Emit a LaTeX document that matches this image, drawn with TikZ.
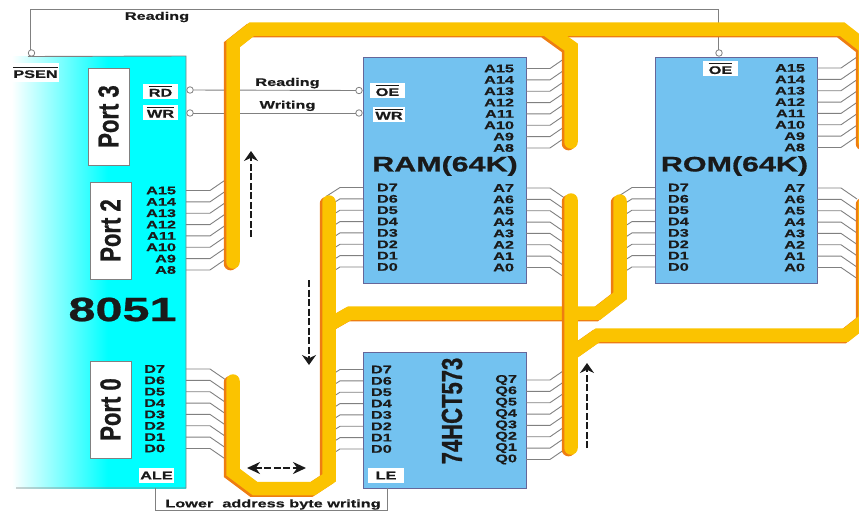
\documentclass[tikz,border=0pt]{standalone}
\usepackage{fontspec}
\setmainfont{Liberation Sans}
\newfontfamily\pinfam{Liberation Sans}[FakeStretch=1.48, FakeBold=0.6]
\newfontfamily\widefam{Liberation Sans}[FakeStretch=1.45, FakeBold=0.8]
\newfontfamily\tallfam{Liberation Sans}[FakeStretch=0.76, FakeBold=0.8]
\usetikzlibrary{arrows.meta, positioning}

\definecolor{chipblue}{HTML}{73C2F0}
\definecolor{busyellow}{HTML}{FBC300}
\definecolor{busorange}{HTML}{EE7D11}
\definecolor{wiregray}{HTML}{808080}
\definecolor{inkblack}{HTML}{1A1A1A}

\pgfdeclarehorizontalshading{mcufade}{100bp}{color(0bp)=(white); color(26bp)=(white);
  color(53bp)=(cyan); color(100bp)=(cyan)}

\tikzset{
  chip/.style={draw=wiregray!80!blue, fill=chipblue, line width=0.9pt, inner sep=0pt, outer sep=0pt},
  portbox/.style={draw=wiregray, fill=white, line width=0.9pt, inner sep=0pt, outer sep=0pt,
    minimum width=41pt, minimum height=97pt, text=inkblack,
    font=\tallfam\bfseries\fontsize{29}{30}\selectfont},
  pinlabel/.style={inner sep=0pt, outer sep=0pt, text=inkblack,
    font=\pinfam\bfseries\fontsize{11}{12}\selectfont},
  tagbox/.style={pinlabel, fill=white, minimum height=15pt},
  wire/.style={draw=wiregray, line width=0.9pt},
  bubble/.style={circle, draw=wiregray, fill=white, line width=0.8pt, minimum size=6.5pt,
    inner sep=0pt, outer sep=0pt},
  title/.style={inner sep=0pt, text=inkblack, font=\widefam\bfseries\fontsize{21}{22}\selectfont},
  busback/.style={draw=busorange, line width=13.5pt, line cap=round, shift={(-2.5,1.6)}},
  busfront/.style={draw=busyellow, line width=13.5pt, line cap=round},
  flow/.style={draw=inkblack, line width=2.8pt, dash pattern=on 7pt off 2.5pt,
    -{Stealth[length=10pt,width=14pt]}},
}

\newcommand{\barred}[1]{$\overline{\hbox{\vrule height 9pt width 0pt #1}}$}
\newcommand{\bus}[1]{\draw[busback] #1; \draw[busfront] #1;}

% chip name, label x, first y, wire slope, pins
\newcommand{\rightpins}[5]{%
  \foreach \pin [count=\k from 0] in {#5} {
    \node[pinlabel, anchor=east] (#1\pin) at (#2,{#3+11.35*\k}) {\pin};
    \draw[wire] (#1.east |- #1\pin) -- ++(24,0) -- ++(16,#4);
  }}
\newcommand{\leftpins}[4]{%
  \foreach \pin [count=\k from 0] in {#4} {
    \node[pinlabel, anchor=west] (#1\pin) at (#2,{#3+11.35*\k}) {\pin};
    \draw[wire] (#1.west |- #1\pin) -- ++(-23,0) -- ++(-14,9);
  }}

\begin{document}
\begin{tikzpicture}[x=1pt, y=-1pt]
  \path[use as bounding box, clip] (0,0) rectangle (859,512);

  % 8051 block, no left edge
  \node[shading=mcufade, inner sep=0pt, outer sep=0pt, minimum width=178pt,
        minimum height=432pt] (mcu) at (97,272) {};
  \draw[wire] (28,56.5) -- (mcu.north east) -- (mcu.south east) -- (16,488);

  \node[chip, minimum width=163pt, minimum height=226pt] (ram) at (444.5,170) {};
  \node[chip, minimum width=162pt, minimum height=226pt] (rom) at (736,170) {};
  \node[chip, minimum width=163pt, minimum height=136pt] (latch) at (444.5,420) {};

  \node[portbox] (port3) at (108.5,116.5) {\rotatebox{90}{Port 3}};
  \node[portbox] (port2) at (110.5,230.5) {\rotatebox{90}{Port 2}};
  \node[portbox] (port0) at (110.5,409.5) {\rotatebox{90}{Port 0}};

  \node[title, font=\widefam\bfseries\fontsize{33.5}{34}\selectfont] (mcuname) at (122.5,309.5) {8051};
  \node[title] (ramname) at (445,166) {RAM(64K)};
  \node[title] (romname) at (734.5,166) {ROM(64K)};
  \node[portbox, draw=none, fill=none, minimum width=0pt, minimum height=0pt] (latchname)
    at (452,411) {\rotatebox{90}{74HCT573}};

  % pins
  \rightpins{mcu}{176}{190.5}{-11}{A15,A14,A13,A12,A11,A10,A9,A8}
  \leftpins{ram}{377}{187.5}{D7,D6,D5,D4,D3,D2,D1,D0}
  \leftpins{rom}{668}{187.5}{D7,D6,D5,D4,D3,D2,D1,D0}
  \leftpins{latch}{371}{369.5}{D7,D6,D5,D4,D3,D2,D1,D0}
  \rightpins{ram}{514}{68.5}{-11}{A15,A14,A13,A12,A11,A10,A9,A8}
  \rightpins{ram}{514}{188}{11}{A7,A6,A5,A4,A3,A2,A1,A0}
  \rightpins{rom}{805}{68}{-11}{A15,A14,A13,A12,A11,A10,A9,A8}
  \rightpins{rom}{805}{188}{11}{A7,A6,A5,A4,A3,A2,A1,A0}
  \rightpins{latch}{517}{380}{-11}{Q7,Q6,Q5,Q4,Q3,Q2,Q1,Q0}
  \rightpins{mcu}{165}{369}{11}{D7,D6,D5,D4,D3,D2,D1,D0}

  % control tags
  \node[tagbox, minimum width=47pt, minimum height=19pt] (psen) at (35.5,72.5) {\barred{PSEN}};
  \node[tagbox, minimum width=35pt] (mcurd) at (160.5,91) {\barred{RD}};
  \node[tagbox, minimum width=35pt] (mcuwr) at (160.5,112) {\barred{WR}};
  \node[tagbox, minimum width=35pt] (ramoe) at (387.5,90.5) {\barred{OE}};
  \node[tagbox, minimum width=32pt] (ramwr) at (389,114) {\barred{WR}};
  \node[tagbox, minimum width=35pt] (romoe) at (720.5,68.5) {\barred{OE}};
  \node[tagbox, minimum width=35pt] (ale) at (156.5,475.5) {ALE};
  \node[tagbox, minimum width=36pt] (le) at (386,475.5) {LE};

  % bubbles and control lines
  \node[bubble] (rdout) at (190,90) {};
  \node[bubble] (wrout) at (190,113) {};
  \node[bubble] (oein) at (359,90.5) {};
  \node[bubble] (wrin) at (359,113) {};
  \node[bubble] (psenout) at (31.5,53) {};
  \node[bubble] (oetop) at (719,53) {};
  \draw[wire] (rdout) -- node[pinlabel, above=2pt, pos=0.58] (lblrd) {Reading} (oein);
  \draw[wire] (wrout) -- node[pinlabel, above=2pt, pos=0.58] (lblwr) {Writing} (wrin);
  \coordinate (topleft) at (30,9);
  \coordinate (topright) at (718,9);
  \draw[wire] (psenout.north -| topleft) -- (topleft) -- (topright) -- (oetop.north -| topright);
  \node[pinlabel] (lbltop) at (157,17) {Reading};
  \coordinate (lowleft) at (155.5,510.5);
  \coordinate (lowright) at (387,510.5);
  \draw[wire] (mcu.south -| lowleft) -- (lowleft) -- (lowright) -- (latch.south -| lowright);
  \node[pinlabel] (lblale) at (273,504.5) {Lower\ \ address byte writing};

  % buses
  \bus{(329,202) -- (329,478) -- (313,488.5) -- (255,488.5) -- (233,472) -- (233,381)
       (329,325) -- (350,313) -- (598,313) -- (620,296) -- (620,201)}
  \bus{(233,262) -- (233,44) -- (252,29) -- (842,29) -- (865,47) -- (865,142)
       (571,142) -- (571,47) -- (546,29)}
  \bus{(571,200) -- (571,448)
       (571,354) -- (598,335) -- (846,335) -- (865,320) -- (865,203)}

  % data direction
  \coordinate (upfrom) at (251,237);
  \coordinate (upto) at (251,151);
  \coordinate (downfrom) at (309,280);
  \coordinate (downto) at (309,365);
  \coordinate (sideleft) at (247,468);
  \coordinate (sideright) at (306,468);
  \coordinate (risefrom) at (587,448);
  \coordinate (riseto) at (587,363);
  \draw[flow] (upfrom) -- (upto);
  \draw[flow] (downfrom) -- (downto);
  \draw[flow] (risefrom) -- (riseto);
  \draw[flow, {Stealth[length=13pt,width=12pt]}-{Stealth[length=13pt,width=12pt]}]
    (sideleft) -- (sideright);
\end{tikzpicture}
\end{document}
